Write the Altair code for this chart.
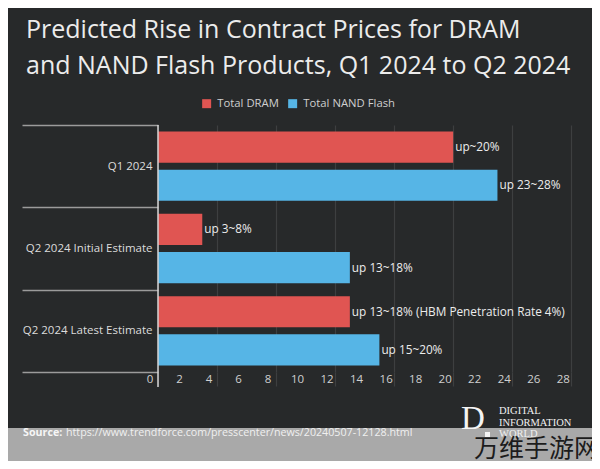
import altair as alt
import pandas as pd

# ---------------- data ----------------
categories = ["Q1 2024", "Q2 2024 Initial Estimate", "Q2 2024 Latest Estimate"]
series = ["Total DRAM", "Total NAND Flash"]
dram_values = [20, 3, 13]
nand_values = [23, 13, 15]
dram_labels = ["up~20%", "up 3~8%", "up 13~18% (HBM Penetration Rate 4%)"]
nand_labels = ["up 23~28%", "up 13~18%", "up 15~20%"]
x_ticks = [0, 2, 4, 6, 8, 10, 12, 14, 16, 18, 20, 22, 24, 26, 28]
title_lines = ["Predicted Rise in Contract Prices for DRAM",
               "and NAND Flash Products, Q1 2024 to Q2 2024"]
source_label = "Source:"
source_url = "https://www.trendforce.com/presscenter/news/20240507-12128.html"
logo_letter = "D"
logo_lines = ["DIGITAL", "INFORMATION", "WORLD"]
watermark = "万维手游网"

rows = []
for c, v, l in zip(categories, dram_values, dram_labels):
    rows.append({"category": c, "series": series[0], "value": v, "label": l})
for c, v, l in zip(categories, nand_values, nand_labels):
    rows.append({"category": c, "series": series[1], "value": v, "label": l})
df = pd.DataFrame(rows)
ticks_df = pd.DataFrame({"t": x_ticks, "lab": [str(t) for t in x_ticks]})
one = pd.DataFrame({"k": [0]})

FONT = "Open Sans"
BG = "#27292a"
RED = "#e05552"
BLUE = "#56b5e6"
GRID = "#3d3f40"

x_enc = alt.X("value:Q", scale=alt.Scale(domain=[0, 29], nice=False),
              axis=alt.Axis(values=x_ticks, title=None, labels=False))
y_enc = alt.Y("category:N", sort=categories,
              scale=alt.Scale(paddingInner=0, paddingOuter=0),
              axis=alt.Axis(title=None))
yoff = alt.YOffset("series:N", sort=series,
                   scale=alt.Scale(paddingInner=0.184, paddingOuter=0.171))
color = alt.Color(
    "series:N", sort=series,
    scale=alt.Scale(domain=series, range=[RED, BLUE]),
    legend=alt.Legend(title=None, orient="none", direction="horizontal",
                      legendX=43, legendY=-27, symbolType="square", symbolSize=81,
                      symbolStrokeWidth=0, labelColor="#cfcfcf", labelFont=FONT,
                      labelFontSize=11.3, labelOffset=5, columnPadding=8),
)

band = alt.Chart(one).mark_rect(color="#a9a9a9").encode(
    x=alt.value(-150), x2=alt.value(434), y=alt.value(303), y2=alt.value(345))

bars = alt.Chart(df).mark_bar().encode(x=x_enc, y=y_enc, yOffset=yoff, color=color)

labels = alt.Chart(df).mark_text(align="left", baseline="middle", dx=2,
                                 font=FONT, fontSize=11.8, color="#ececec").encode(
    x=alt.X("value:Q", title=None),
    y=alt.Y("category:N", sort=categories, title=None),
    yOffset=alt.YOffset("series:N", sort=series),
    text="label:N")

tick_labels = alt.Chart(ticks_df).mark_text(align="center", baseline="middle", dx=-8,
                                            font=FONT, fontSize=11.5, color="#d0d0d0").encode(
    x=alt.X("t:Q", title=None), y=alt.value(255), text="lab:N")

zero = alt.Chart(one).mark_rule(color="#d6d6d6", strokeWidth=1.5).encode(
    x=alt.X(datum=0, title=None), y=alt.value(0), y2=alt.value(262))

src1 = alt.Chart(one).mark_text(align="left", baseline="middle", font=FONT, fontSize=10.7,
                                fontWeight="bold", color="#f6f6f6").encode(
    x=alt.value(-135), y=alt.value(308), text=alt.value(source_label))
src2 = alt.Chart(one).mark_text(align="left", baseline="middle", font=FONT, fontSize=10.7,
                                color="#f0f0f0").encode(
    x=alt.value(-92), y=alt.value(308), text=alt.value(source_url))

logo_d = alt.Chart(one).mark_text(align="left", baseline="middle", font="Liberation Serif",
                                  fontSize=33, color="#f4f4f4").encode(
    x=alt.value(303), y=alt.value(294), text=alt.value(logo_letter))
logo_layers = []
for i, line in enumerate(logo_lines):
    logo_layers.append(
        alt.Chart(one).mark_text(align="left", baseline="middle", font="Liberation Serif",
                                 fontSize=10.5, color="#f0f0f0").encode(
            x=alt.value(341), y=alt.value(286 + 11.5 * i), text=alt.value(line)))
logo_sq = alt.Chart(one).mark_rect(color="#f4f4f4").encode(
    x=alt.value(327), x2=alt.value(332), y=alt.value(307), y2=alt.value(312))
wm = alt.Chart(one).mark_text(align="left", baseline="middle", font="Noto Sans CJK SC",
                              fontSize=25, color="#1c1c1c").encode(
    x=alt.value(316), y=alt.value(324), text=alt.value(watermark))

chart = alt.layer(band, bars, labels, tick_labels, zero, src1, src2, logo_d, *logo_layers,
                  logo_sq, wm).properties(
    width=428, height=247,
    padding={"left": 150, "top": 117, "right": 6, "bottom": 89},
    autosize=alt.AutoSizeParams(type="none"),
    background=BG,
    title=alt.TitleParams(text=title_lines, anchor="start", frame="group", dx=-132,
                          font=FONT, fontSize=25, fontWeight="normal", color="#ececec",
                          lineHeight=36, offset=19),
).configure_view(stroke=None).configure_axisX(
    grid=True, gridColor=GRID, gridWidth=1.2,
    domain=False, tickSize=14, tickColor=GRID, tickWidth=1.2,
).configure_axisY(
    domain=False, grid=False, tickBand="extent", tickSize=136,
    tickColor="#9b9b9b", tickWidth=1.5, labelColor="#dcdcdc",
    labelFont=FONT, labelFontSize=11.5, labelPadding=-130,
    labelAlign="right", labelBaseline="middle",
)

chart.save("out.html", embed_options={"renderer": "svg", "actions": False})
